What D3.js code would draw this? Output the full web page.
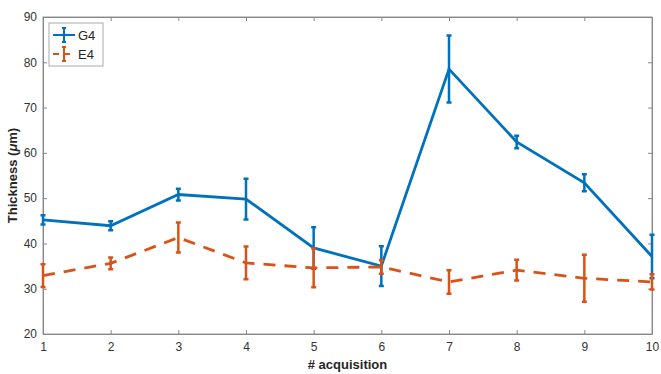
<!DOCTYPE html>
<meta charset="utf-8">
<style>
body { margin: 0; background: #fff; }
text { font-family: "Liberation Sans", Arial, sans-serif; fill: #262626; }
.axis path, .axis line { stroke: #888; }
.axis text { font-size: 12px; fill: #333; }
</style>
<script src="https://cdn.jsdelivr.net/npm/d3@7"></script>
<body>
<script>

var acquisitions = [1, 2, 3, 4, 5, 6, 7, 8, 9, 10];
var g4Mean = [45.2, 43.9, 50.8, 49.8, 39.0, 35.0, 78.5, 62.4, 53.4, 37.1];
var g4Err  = [1.0, 1.0, 1.3, 4.5, 4.6, 4.4, 7.4, 1.4, 1.9, 4.8];
var e4Mean = [32.9, 35.6, 41.3, 35.7, 34.6, 34.8, 31.5, 34.1, 32.3, 31.5];
var e4Err  = [2.5, 1.3, 3.3, 3.6, 4.3, 1.5, 2.6, 2.3, 5.2, 1.7];
var yTicks = [20, 30, 40, 50, 60, 70, 80, 90];

var width = 661,
    height = 374;

var margin = {top: 17, right: 9, bottom: 40, left: 43};

var svg = d3.select("body")
              .append("svg")
              .attr("width", width)
              .attr("height", height)

var x = d3.scaleLinear()
            .domain([1, 10])
            .range([margin.left, width - margin.right]);

var y = d3.scaleLinear()
            .domain([20, 90])
            .range([height - margin.bottom, margin.top]);

// box
svg.append("rect")
  .attr("x", x(1)).attr("y", y(90))
  .attr("width", x(10) - x(1)).attr("height", y(20) - y(90))
  .attr("fill", "none").attr("stroke", "#999");

// axes, ticks inward
svg.append("g")
  .attr("class", "axis")
  .attr("transform", "translate(0," + y(20) + ")")
  .call(d3.axisBottom(x).tickValues(acquisitions).tickSizeInner(-4).tickSizeOuter(0).tickPadding(8).tickFormat(d3.format("d")));

svg.append("g")
  .attr("class", "axis")
  .attr("transform", "translate(" + x(1) + ",0)")
  .call(d3.axisLeft(y).tickValues(yTicks).tickSizeInner(-4).tickSizeOuter(0).tickPadding(6));

svg.append("g")
  .attr("class", "axis")
  .attr("transform", "translate(0," + y(90) + ")")
  .call(d3.axisTop(x).tickValues(acquisitions).tickSizeInner(-4).tickSizeOuter(0).tickFormat(""));

svg.append("g")
  .attr("class", "axis")
  .attr("transform", "translate(" + x(10) + ",0)")
  .call(d3.axisRight(y).tickValues(yTicks).tickSizeInner(-4).tickSizeOuter(0).tickFormat(""));

svg.selectAll(".axis .domain").attr("stroke", "#999");

// labels
svg.append("text")
  .attr("x", (x(1) + x(10)) / 2)
  .attr("y", 369)
  .attr("text-anchor", "middle")
  .attr("font-size", "13px")
  .attr("font-weight", "bold")
  .text("# acquisition");

var ylab = svg.append("text")
  .attr("transform", "translate(17," + ((y(20) + y(90)) / 2) + ") rotate(-90)")
  .attr("text-anchor", "middle")
  .attr("font-size", "13px")
  .attr("font-weight", "bold");
ylab.append("tspan").text("Thickness (");
ylab.append("tspan").attr("font-style", "italic").text("\u03bc");
ylab.append("tspan").text("m)");

var series = [
  {name: "G4", mean: g4Mean, err: g4Err, color: "#0072BD", dash: null},
  {name: "E4", mean: e4Mean, err: e4Err, color: "#D95319", dash: "12,9"}
];

var line = d3.line()
  .x(function (d) { return x(d[0]); })
  .y(function (d) { return y(d[1]); });

var cap = 2.5;

series.forEach(function (s) {
  var pts = acquisitions.map(function (a, i) { return [a, s.mean[i], s.err[i]]; });
  var g = svg.append("g");

  g.selectAll(".bar")
    .data(pts)
    .enter()
      .append("path")
        .attr("fill", "none")
        .attr("stroke", s.color)
        .attr("stroke-width", 2.5)
        .attr("d", function (d) {
          var cx = x(d[0]), y0 = y(d[1] - d[2]), y1 = y(d[1] + d[2]);
          return "M" + cx + "," + y0 + "V" + y1 +
                 "M" + (cx - cap) + "," + y0 + "H" + (cx + cap) +
                 "M" + (cx - cap) + "," + y1 + "H" + (cx + cap);
        });

  g.append("path")
    .datum(pts)
    .attr("fill", "none")
    .attr("stroke", s.color)
    .attr("stroke-width", 2.8)
    .attr("stroke-dasharray", s.dash)
    .attr("d", line);
});

// legend
var legend = svg.append("g").attr("transform", "translate(49,23)");
legend.append("rect")
  .attr("width", 54).attr("height", 43)
  .attr("fill", "#fff").attr("stroke", "#aaa");

series.forEach(function (s, i) {
  var ly = 12 + i * 19;
  var row = legend.append("g");
  row.append("line")
    .attr("x1", 4).attr("x2", 26).attr("y1", ly).attr("y2", ly)
    .attr("stroke", s.color).attr("stroke-width", 2)
    .attr("stroke-dasharray", s.dash ? "6,5" : null);
  row.append("path")
    .attr("fill", "none").attr("stroke", s.color).attr("stroke-width", 2)
    .attr("d", "M15," + (ly - 7) + "V" + (ly + 7) + "M13," + (ly - 7) + "H17M13," + (ly + 7) + "H17");
  row.append("text")
    .attr("x", 29).attr("y", ly + 5)
    .attr("font-size", "13px")
    .text(s.name);
});

</script>
</body>
